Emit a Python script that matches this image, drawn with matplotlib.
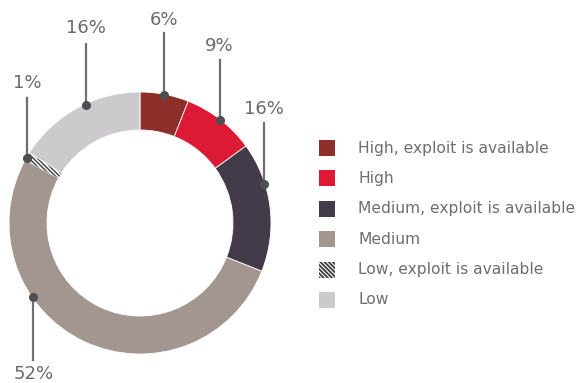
import matplotlib.pyplot as plt
from matplotlib.patches import Rectangle
import numpy as np

categories = ['High, exploit is available', 'High', 'Medium, exploit is available',
              'Medium', 'Low, exploit is available', 'Low']
shares = [6, 9, 16, 52, 1, 16]
colors = ['#8c2f2b', '#dc1a35', '#433b4a', '#a3958f', '#ffffff', '#cdcacd']
hatches = [None, None, None, None, '\\\\\\\\\\\\\\\\', None]

# where along each slice the leader dot sits, and where its label goes (pixels)
dot_frac = [0.5, 0.5, 0.32, 0.66, 0.3, 0.57]
label_y = [20, 46, 109, 374, 83, 28]
line_end = [33, 60, 123, 360, 98, 44]

W, H = 583, 383
cx, cy, R, ring = 140, 223, 131, 38

fig = plt.figure(figsize=(W / 100, H / 100), dpi=100)
ax = fig.add_axes([0, 0, 1, 1])

def yy(y):
    return H - y

wedges, _ = ax.pie(shares, colors=colors, startangle=90, counterclock=False,
                   center=(cx, yy(cy)), radius=R, frame=True,
                   wedgeprops=dict(width=ring, linewidth=0.6, edgecolor='white'))
for w, h in zip(wedges, hatches):
    if h:
        w.set_hatch(h)
        w.set_edgecolor('#3c3c3c')
        w.set_linewidth(0)
ax.set_xlim(0, W)
ax.set_ylim(0, H)
ax.set_aspect('equal')
ax.axis('off')

plt.rcParams['hatch.linewidth'] = 1.3
font = 'DejaVu Sans'
start = 90.0
for i, v in enumerate(shares):
    span = v * 3.6
    ang = np.radians(start - span * dot_frac[i])
    start -= span
    dx = cx + (R - 1) * np.cos(ang)
    dy = yy(cy) + (R - 1) * np.sin(ang)
    ax.plot([dx, dx], [dy, yy(line_end[i])], color='#6f6f6f', lw=1.6, zorder=5)
    ax.plot(dx, dy, 'o', color='#4f4f52', ms=5.5, zorder=6)
    ax.text(dx, yy(label_y[i]), f'{v}%', ha='center', va='center',
            fontsize=13, color='#6a6a6a', family=font)

# legend
for i, (name, c) in enumerate(zip(categories, colors)):
    ly = 148 + i * 30.4
    sq = Rectangle((319, yy(ly) - 8), 16, 16, facecolor=c, linewidth=0,
                   edgecolor='#3c3c3c', hatch=hatches[i])
    ax.add_patch(sq)
    ax.text(358, yy(ly), name, ha='left', va='center', fontsize=11.2,
            color='#6e6e6e', family=font)

fig.savefig('out.png', dpi=100)
